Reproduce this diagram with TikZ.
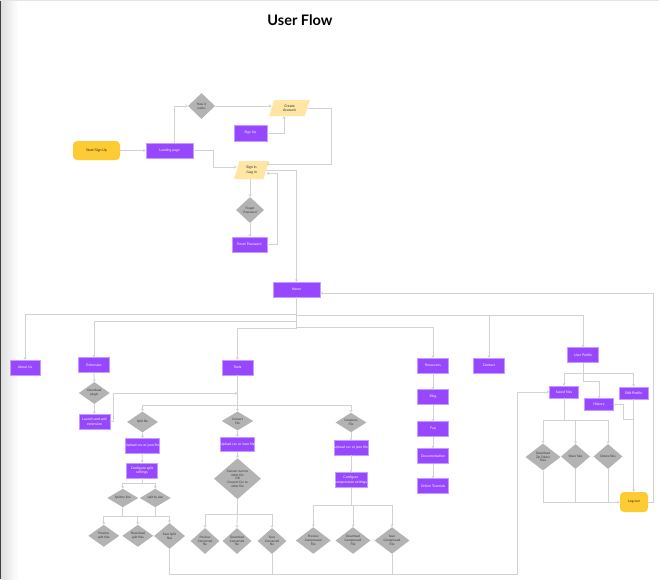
\documentclass[tikz,border=0pt]{standalone}
\usepackage{fontspec}
\setmainfont{Lato}
\usetikzlibrary{shapes.geometric,arrows.meta,calc}
\definecolor{purp}{HTML}{9747FF}
\definecolor{purpb}{HTML}{C49BFF}
\definecolor{yel}{HTML}{FFCB33}
\definecolor{ylt}{HTML}{FFE6A3}
\definecolor{dgray}{HTML}{B3B3B3}
\definecolor{lcol}{HTML}{D2D2D2}
\begin{document}
\begin{tikzpicture}[x=1pt,y=-1pt,
  box/.style={rectangle, fill=purp, draw=purpb, line width=0.5pt, text=white,
    font=\fontsize{3.5}{4.2}\selectfont, align=center, inner sep=0pt,
    minimum width=31, minimum height=15},
  dia/.style={diamond, fill=dgray, draw=none, text=black!80,
    font=\fontsize{3.1}{3.8}\selectfont, align=center, inner sep=0pt},
  para/.style={trapezium, trapezium left angle=72, trapezium right angle=108,
    trapezium stretches=true, fill=ylt, text=black!85,
    font=\fontsize{3.5}{4.4}\selectfont, align=center, inner sep=0pt},
  term/.style={rectangle, rounded corners=4pt, fill=yel, text=black!85,
    font=\fontsize{3.5}{4.2}\selectfont, align=center, inner sep=0pt},
  conn/.style={draw=lcol, line width=0.8pt, -{Stealth[length=2.6pt,width=3.2pt]}},
  ln/.style={draw=lcol, line width=0.8pt}]
\useasboundingbox (0,0) rectangle (659,579);
\fill[white] (0,0) rectangle (659,579);
\shade[left color=black!12, right color=white] (1.3,0) rectangle (18,579);
\fill[black!75] (0,0) rectangle (1.3,579);
\draw[black!10, line width=0.8pt] (0,0.4) -- (659,0.4);

\node[font=\fontsize{14.5}{16}\selectfont\bfseries] (title) at (300,20) {User Flow};

% ---- top part
\node[term, minimum width=47, minimum height=19] (start) at (96.5,150.5) {Start/Sign Up};
\node[box, minimum width=47] (land) at (169.5,150.5) {Landing page};
\node[dia, minimum width=27, minimum height=26] (how) at (201.5,106) {How it\\works};
\node[para, minimum width=41, minimum height=16] (create) at (289.5,108) {Create\\Account};
\node[box, minimum width=33, minimum height=16] (signup) at (250.5,133) {Sign Up};
\node[para, minimum width=35, minimum height=18] (signin) at (251.5,170) {Sign in\\/Log in};
\node[dia, minimum width=28, minimum height=26] (forgot) at (250,210) {Forgot\\Password};
\node[box, minimum width=35] (reset) at (249.5,244.5) {Reset Password};
\node[box, minimum width=47] (home) at (296.5,289.5) {Home};

\draw[conn] (start) -- (land);
\draw[conn] ([xshift=4.5pt]land.north) |- (how.west);
\draw[conn] (how.east) -- (how.east -| create.west);
\draw[conn] (signup.east) -| ([xshift=-5.5pt]create.south);
\coordinate (c1) at (331,164);
\draw[conn] (create.east) -| (c1) -- (c1 -| signin.east);
\coordinate (c2) at (213,167);
\draw[conn] (land.east) -| (c2) -- (c2 -| signin.west);
\draw[conn] (forgot.north |- signin.south) -- (forgot.north);
\draw[conn] (forgot.south) -- (forgot.south |- reset.north);
\coordinate (c3) at (277,173.5);
\draw[conn] (reset.east) -| (c3) -- (c3 -| signin.east);
\draw[conn] (signin.east) -| (home.north);

% ---- row under home
\node[box, minimum width=30] (about) at (25,367.5) {About Us};
\node[box] (ext) at (94,365) {Extension};
\node[box] (tools) at (237.5,367.5) {Tools};
\node[box] (res) at (433,365.5) {Resources};
\node[box] (contact) at (489,365.5) {Contact};
\node[box] (prof) at (583,355) {User Profile};

\draw[conn] (home.south) |- (25,314) -- (about.north);
\draw[conn] (home.south) |- (94,321.7) -- (ext.north);
\draw[conn] (home.south) |- (237.5,328.3) -- (tools.north);
\draw[conn] (home.south) |- (433,327.7) -- (res.north);
\draw[conn] (home.south) |- (489,315) -- (contact.north);
\draw[conn] (home.south) |- (583,315) -- (prof.north);

% ---- extension
\node[dia, minimum width=31, minimum height=22] (plugin) at (94.3,393) {Download\\plugin};
\node[box] (launch) at (94.5,421.7) {Launch and add\\extension};
\draw[conn] (ext) -- (plugin);
\draw[conn] (plugin) -- (launch);
\coordinate (tj) at (237.5,393.3);
\draw[conn] (launch.east) -| (113.3,393.3) -- (tj);

% ---- tools
\node[dia, minimum width=31, minimum height=21] (split) at (142.5,422) {Split file};
\node[dia, minimum width=31.6, minimum height=19] (conv) at (237.5,421) {Convert\\File};
\node[dia, minimum width=31, minimum height=18.5] (comp) at (351,422.5) {Compress\\File};
\draw[conn] (tools.south) -- (conv.north);
\draw[conn] (tools.south) |- (142.5,405) -- (split.north);
\draw[conn] (tools.south) |- (351,405) -- (comp.north);

% split branch
\node[box, minimum width=32] (up1) at (142.5,445.8) {Upload csv or json file};
\node[box] (cfg1) at (142,470.3) {Configure split\\settings};
\node[dia, minimum width=31, minimum height=17] (sbl) at (122.8,498) {Split by line};
\node[dia, minimum width=31, minimum height=17] (sbs) at (155.3,498) {split by size};
\node[dia, minimum width=31, minimum height=22] (prev1) at (103.8,535.8) {Preview\\split files};
\node[dia, minimum width=31, minimum height=22] (dl1) at (137.8,535.8) {Download\\split files};
\node[dia, minimum width=31, minimum height=26] (save1) at (169.5,536) {Save Split\\files};
\draw[conn] (split) -- (up1);
\draw[conn] (up1) -- (cfg1);
\draw[conn] (cfg1.south) |- (122.8,483.3) -- (sbl.north);
\draw[conn] (cfg1.south) |- (155.3,483.3) -- (sbs.north);
\draw[conn] (sbl.south) |- (103.8,516) -- (prev1.north);
\draw[conn] (sbl.south) |- (137.8,516) -- (dl1.north);
\draw[conn] (sbs.south) |- (169.5,516) -- (save1.north);
\draw[ln] (sbs.south) |- (137.8,516);

% convert branch
\node[box, minimum width=31.6, minimum height=14.4] (up2) at (237.5,444.5) {Upload csv or Json file};
\node[dia, minimum width=47, minimum height=41] (big) at (237.5,478.7) {Convert Json to\\other file\\OR\\Convert Csv to\\other file};
\node[dia, minimum width=29, minimum height=26] (pc) at (205,541) {Preview\\Converted\\file};
\node[dia, minimum width=29, minimum height=26] (dc) at (237,541) {Download\\Converted\\file};
\node[dia, minimum width=29, minimum height=26] (sc) at (272,541) {Save\\Converted\\file};
\draw[conn] (conv) -- (up2);
\draw[conn] (up2) -- (big);
\draw[conn] (big.south) |- (205,514) -- (pc.north);
\draw[conn] (big.south) -- (dc.north);
\draw[conn] (big.south) |- (272,514) -- (sc.north);

% compress branch
\node[box, minimum height=14.3] (up3) at (351,447.8) {Upload csv or json file};
\node[box, minimum width=31.6, minimum height=14.7] (cfg3) at (351,480) {Configure\\compression settings};
\node[dia, minimum width=35, minimum height=26] (pcm) at (313.3,540.5) {Preview\\Compressed\\File};
\node[dia, minimum width=35, minimum height=26] (dcm) at (353,540.5) {Download\\Compressed\\File};
\node[dia, minimum width=35, minimum height=26] (scm) at (392,540.5) {Save\\Compressed\\File};
\draw[conn] (comp) -- (up3);
\draw[conn] (up3) -- (cfg3);
\draw[conn] (cfg3.south) |- (313.3,505.3) -- (pcm.north);
\draw[conn] (cfg3.south) |- (353,505.3) -- (dcm.north);
\draw[conn] (cfg3.south) |- (392,505.3) -- (scm.north);

% ---- resources
\node[box] (blog) at (433,397) {Blog};
\node[box] (faq) at (433,429) {Faq};
\node[box] (doc) at (433,456) {Documentation};
\node[box] (tut) at (433,486) {Online Tutorials};
\draw[conn] (res) -- (blog);
\draw[conn] (blog) -- (faq);
\draw[conn] (faq) -- (doc);
\draw[conn] (doc) -- (tut);

% ---- user profile
\node[box, minimum width=29, minimum height=12] (saved) at (564,392) {Saved files};
\node[box, minimum width=29, minimum height=12] (hist) at (599,404.7) {History};
\node[box, minimum width=29, minimum height=12] (edit) at (633.7,393) {Edit Profile};
\node[dia, minimum width=35, minimum height=27] (dz) at (543,457) {Download\\Zip Folder\\Files};
\node[dia, minimum width=29, minimum height=25] (share) at (575.5,456.5) {Share files};
\node[dia, minimum width=29, minimum height=25] (del) at (608,456.5) {Delete files};
\node[term, minimum width=28, minimum height=20] (logout) at (634,502) {Log out};

\draw[conn] (prof.south) |- (564,373.3) -- (saved.north);
\draw[conn] (prof.south) |- (633.7,373.3) -- (edit.north);
\draw[conn] (prof.south) |- (599,381) -- (hist.north);
\draw[conn] (saved.south) |- (543,420) -- (dz.north);
\draw[conn] (saved.south) |- (575.5,420) -- (share.north);
\draw[conn] (saved.south) |- (608,420) -- (del.north);
\draw[conn] (dz.south) |- (logout.west);
\draw[ln] (share.south) -- (575.5,502);
\draw[ln] (del.south) -- (608,502);
\draw[conn] (edit.south) -- (edit.south |- logout.north);
\draw[ln] (hist.east) -| (623.3,419) -- (633.7,419);

% ---- loops
\coordinate (c5) at (653,293);
\draw[conn] (logout.east) -| (c5) -- (c5 -| home.east);
\coordinate (c6) at (517.3,574.3);
\draw[conn] (save1.south) |- (c6) |- (saved.west);
\draw[ln] (sc.south) -- (sc.south |- c6);
\draw[ln] (scm.south) -- (scm.south |- c6);
\end{tikzpicture}
\end{document}
